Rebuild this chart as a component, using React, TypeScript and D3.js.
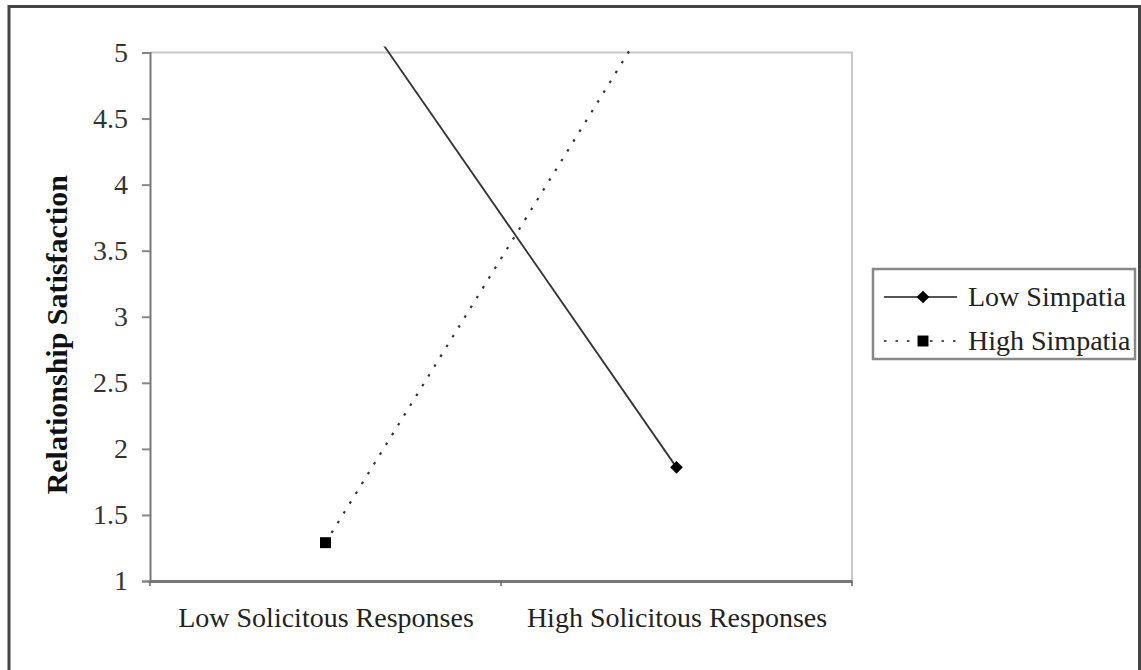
import React, { useEffect, useRef } from "react";
import * as d3 from "d3";

const categories = ["Low Solicitous Responses", "High Solicitous Responses"];
const seriesNames = ["Low Simpatia", "High Simpatia"];
const lowSimpatia = [5.69, 1.86];
const highSimpatia = [1.29, 5.59];
const yTicks = [1, 1.5, 2, 2.5, 3, 3.5, 4, 4.5, 5];

const FONT = "'Liberation Serif', 'Times New Roman', serif";

function App() {
  const svgRef = useRef<SVGSVGElement | null>(null);

  useEffect(() => {
    const w = 1141;
    const h = 670;
    const left = 150;
    const right = 852;
    const top = 52.5;
    const bottom = 581;

    const svg = d3.select(svgRef.current);
    svg.selectAll("*").remove();
    svg.attr("width", w).attr("height", h);

    const x = d3.scalePoint<string>().domain(categories).range([left, right]).padding(0.5);
    const y = d3.scaleLinear().domain([1, 5]).range([bottom, top]);

    // outer frame (no bottom edge)
    svg
      .append("path")
      .attr("d", `M9,${h} V6.5 H1139.5 V${h}`)
      .attr("fill", "none")
      .attr("stroke", "#444")
      .attr("stroke-width", 3);

    // plot area top/right border
    svg
      .append("path")
      .attr("d", `M${left},${top} H${right} V${bottom}`)
      .attr("fill", "none")
      .attr("stroke", "#c8c8c8")
      .attr("stroke-width", 2);

    // y axis
    const yAxis = d3
      .axisLeft(y)
      .tickValues(yTicks)
      .tickSize(8)
      .tickPadding(14)
      .tickFormat((d) => String(d));
    const gy = svg.append("g").attr("transform", `translate(${left},0)`).call(yAxis);
    gy.select(".domain").attr("stroke", "#777").attr("stroke-width", 2);
    gy.selectAll("line").attr("stroke", "#888").attr("stroke-width", 2);
    gy.selectAll("text")
      .style("font-family", FONT)
      .style("font-size", "28px")
      .attr("fill", "#333");

    // x axis with ticks between categories
    const xb = d3.scaleBand<string>().domain(categories).range([left, right]);
    const xAxis = d3.axisBottom(x).tickSize(0).tickPadding(26);
    const gx = svg.append("g").attr("transform", `translate(0,${bottom})`).call(xAxis);
    gx.select(".domain").attr("stroke", "#777").attr("stroke-width", 3);
    gx.selectAll("text")
      .style("font-family", FONT)
      .style("font-size", "28px")
      .attr("fill", "#222");
    const bounds = [left, ...categories.map((c) => (xb(c) as number) + xb.bandwidth())];
    svg
      .selectAll(".xtick")
      .data(bounds)
      .join("line")
      .attr("x1", (d) => d)
      .attr("x2", (d) => d)
      .attr("y1", bottom)
      .attr("y2", bottom + 5)
      .attr("stroke", "#666")
      .attr("stroke-width", 1.5);

    // y axis title
    svg
      .append("text")
      .attr("transform", `translate(67,${(top + bottom) / 2 + 18}) rotate(-90)`)
      .attr("text-anchor", "middle")
      .style("font-family", FONT)
      .style("font-size", "30px")
      .style("font-weight", "bold")
      .attr("fill", "#111")
      .text("Relationship Satisfaction");

    // clip lines slightly above plot top
    svg
      .append("clipPath")
      .attr("id", "plotclip")
      .append("rect")
      .attr("x", left)
      .attr("y", top - 6)
      .attr("width", right - left)
      .attr("height", bottom - top + 6);

    const line = d3
      .line<number>()
      .x((_, i) => x(categories[i]) as number)
      .y((d) => y(d));

    const plot = svg.append("g").attr("clip-path", "url(#plotclip)");
    plot
      .append("path")
      .attr("d", line(lowSimpatia))
      .attr("fill", "none")
      .attr("stroke", "#333")
      .attr("stroke-width", 1.8);
    plot
      .append("path")
      .attr("d", line(highSimpatia))
      .attr("fill", "none")
      .attr("stroke", "#333")
      .attr("stroke-width", 2.2)
      .attr("stroke-dasharray", "2.5,9");

    // diamond = square turned 45 degrees
    const diamond = d3.symbol().type(d3.symbolSquare).size(80);
    const square = d3.symbol().type(d3.symbolSquare).size(120);

    svg
      .selectAll(".lowpt")
      .data(lowSimpatia.map((v, i) => ({ v, c: categories[i] })).filter((d) => d.v <= 5))
      .join("path")
      .attr("d", diamond() as string)
      .attr("transform", (d) => `translate(${x(d.c)},${y(d.v)}) rotate(45)`)
      .attr("fill", "#000");
    svg
      .selectAll(".highpt")
      .data(highSimpatia.map((v, i) => ({ v, c: categories[i] })).filter((d) => d.v <= 5))
      .join("path")
      .attr("d", square() as string)
      .attr("transform", (d) => `translate(${x(d.c)},${y(d.v)})`)
      .attr("fill", "#000");

    // legend
    const lg = svg.append("g").attr("transform", "translate(873,269)");
    lg.append("rect")
      .attr("width", 262)
      .attr("height", 90)
      .attr("fill", "#fff")
      .attr("stroke", "#888")
      .attr("stroke-width", 2.5);
    const rows = [
      { name: seriesNames[0], dash: null, sym: diamond, rot: 45, y: 28 },
      { name: seriesNames[1], dash: "2.5,9", sym: square, rot: 0, y: 72 },
    ];
    rows.forEach((r) => {
      lg.append("line")
        .attr("x1", 11)
        .attr("x2", 84)
        .attr("y1", r.y)
        .attr("y2", r.y)
        .attr("stroke", "#555")
        .attr("stroke-width", 2)
        .attr("stroke-dasharray", r.dash);
      lg.append("path")
        .attr("d", r.sym() as string)
        .attr("transform", `translate(50,${r.y}) rotate(${r.rot})`)
        .attr("fill", "#000");
      lg.append("text")
        .attr("x", 95)
        .attr("y", r.y + 9)
        .style("font-family", FONT)
        .style("font-size", "28px")
        .attr("fill", "#222")
        .text(r.name);
    });
  }, []);

  return (
    <div>
      <svg ref={svgRef} style={{ position: "absolute", left: 0, top: 0, background: "#fff" }}></svg>
    </div>
  );
}

export default App;
